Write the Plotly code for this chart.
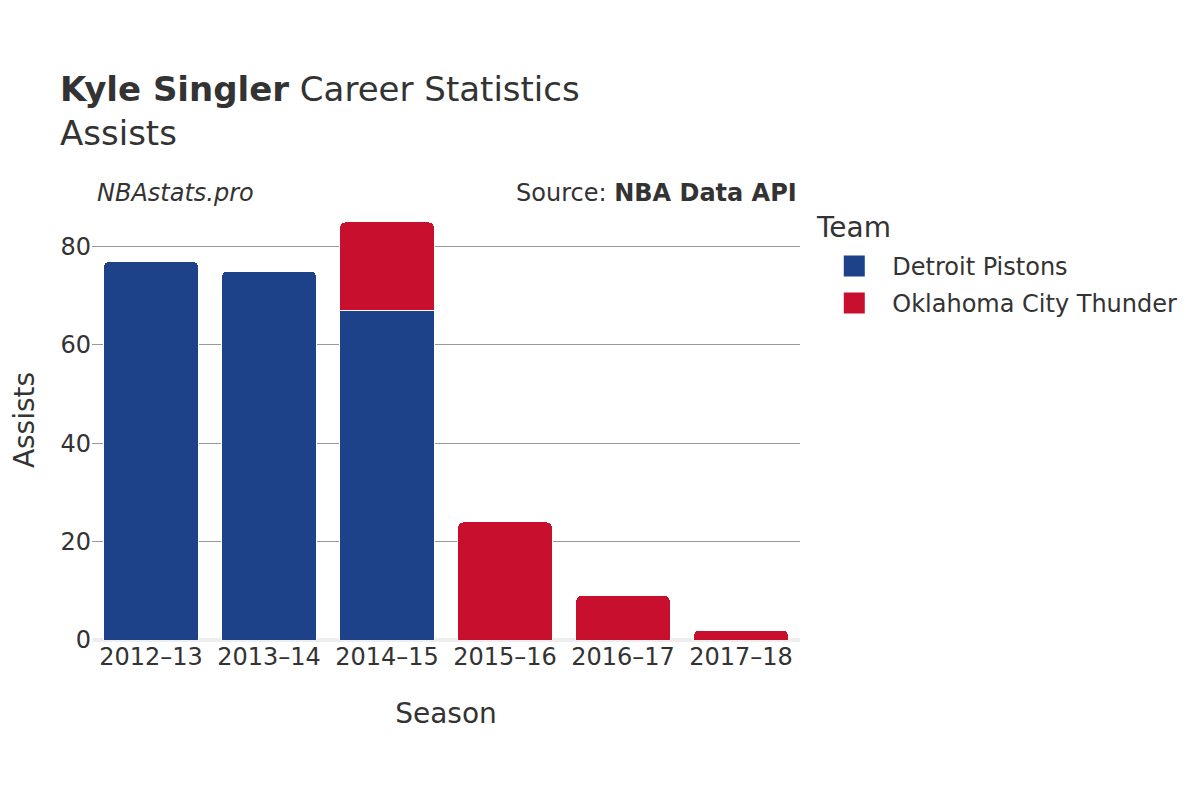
import plotly.graph_objects as go

seasons = ["2012–13", "2013–14", "2014–15", "2015–16", "2016–17", "2017–18"]
pistons_seasons = ["2012–13", "2013–14", "2014–15"]
pistons_assists = [77, 75, 67]
thunder_seasons = ["2014–15", "2015–16", "2016–17", "2017–18"]
thunder_assists = [18, 24, 9, 2]

teams = ["Detroit Pistons", "Oklahoma City Thunder"]
team_colors = ["#1D428A", "#C8102E"]

FONT = "DejaVu Sans"
TXT = "#333333"

fig = go.Figure()
fig.add_trace(go.Bar(x=pistons_seasons, y=pistons_assists, name=teams[0],
                     legendgroup=teams[0], showlegend=False,
                     marker=dict(color=team_colors[0], line=dict(color="white", width=1))))
fig.add_trace(go.Bar(x=thunder_seasons, y=thunder_assists, name=teams[1],
                     legendgroup=teams[1], showlegend=False,
                     marker=dict(color=team_colors[1], line=dict(color="white", width=1))))
# legend entries with larger square symbols
for name, col in zip(teams, team_colors):
    fig.add_trace(go.Scatter(x=[None], y=[None], mode="markers", name=name,
                             legendgroup=name, showlegend=True,
                             marker=dict(symbol="square", size=16, color=col,
                                         line=dict(color=col, width=5))))

fig.update_layout(
    width=1200, height=800,
    barmode="stack", bargap=0.2, barcornerradius=5,
    plot_bgcolor="white", paper_bgcolor="white",
    font=dict(family=FONT, color=TXT, size=24),
    margin=dict(l=84, r=408, t=192, b=168, autoexpand=False),
    title=dict(text="<b>Kyle Singler</b> Career Statistics<br>Assists",
               x=52/1200, xanchor="left", y=1-93/800, yanchor="top",
               font=dict(size=34, color=TXT, family=FONT)),
    xaxis=dict(categoryorder="array", categoryarray=seasons,
               title=dict(text="Season", font=dict(size=28), standoff=33),
               tickfont=dict(size=24), showgrid=False, ticks=""),
    yaxis=dict(title=dict(text="Assists", font=dict(size=28), standoff=34),
               tickfont=dict(size=24), showgrid=True, gridcolor="#999999", gridwidth=1,
               zeroline=True, zerolinecolor="#eeeeee", zerolinewidth=4,
               range=[0, 89.47], dtick=20, ticks=""),
    legend=dict(font=dict(size=24),
                x=1.023, xanchor="left", y=0.9004, yanchor="top",
                traceorder="grouped", itemwidth=66, tracegroupgap=3),
    annotations=[
        dict(text="<i>NBAstats.pro</i>", xref="paper", yref="paper", x=0.004, y=1.016,
             xanchor="left", yanchor="middle", showarrow=False, font=dict(size=24, color=TXT)),
        dict(text="Source: <b>NBA Data API</b>", xref="paper", yref="paper", x=0.999, y=1.016,
             xanchor="right", yanchor="middle", showarrow=False, font=dict(size=24, color=TXT)),
        dict(text="Team", xref="paper", yref="paper", x=1.0198, y=0.9386,
             xanchor="left", yanchor="middle", showarrow=False, font=dict(size=28, color=TXT)),
    ],
)

fig.write_html("out.html")
